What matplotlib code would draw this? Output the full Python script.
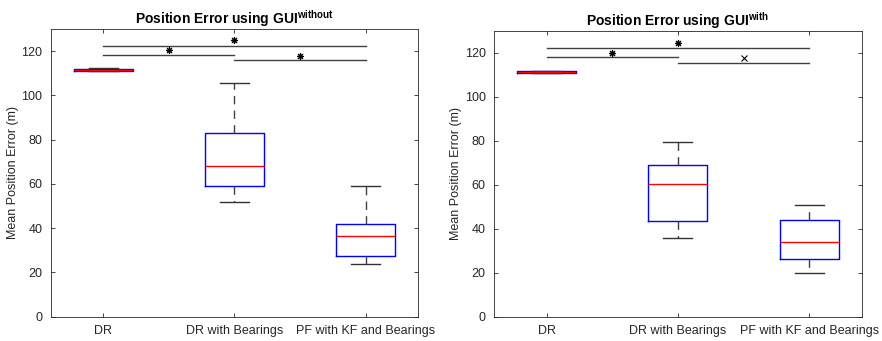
import matplotlib
matplotlib.use('Agg')
import matplotlib.pyplot as plt

plt.rcParams['font.family'] = ['Liberation Sans', 'DejaVu Sans']
plt.rcParams['mathtext.fontset'] = 'custom'
plt.rcParams['mathtext.bf'] = 'Liberation Sans:bold'
plt.rcParams['mathtext.rm'] = 'Liberation Sans'

categories = ['DR', 'DR with Bearings', 'PF with KF and Bearings']
titles = ['Position Error using GUI$^{\\mathbf{without}}$',
          'Position Error using GUI$^{\\mathbf{with}}$']

# box stats per panel: (whislo, q1, med, q3, whishi)
without_stats = [
    (111.0, 111.2, 111.5, 111.9, 112.2),
    (52.0, 59.2, 68.0, 83.0, 105.5),
    (24.0, 27.6, 36.3, 41.8, 59.2),
]
with_stats = [
    (110.8, 111.0, 111.3, 111.7, 112.0),
    (36.0, 43.6, 60.3, 69.0, 79.4),
    (19.9, 26.2, 33.9, 44.1, 51.0),
]

# significance brackets: (from, to, line height, marker, marker height)
without_sig = [(1, 3, 122.3, '*', 124.8), (1, 2, 118.3, '*', 120.6), (2, 3, 115.8, '*', 118.0)]
with_sig = [(1, 3, 122.3, '*', 124.4), (1, 2, 118.0, '*', 120.1), (2, 3, 115.6, 'x', 117.6)]

fig = plt.figure(figsize=(8.82, 3.41), dpi=100)
axes = [fig.add_axes([0.0575, 0.0713, 0.4164, 0.8437]),
        fig.add_axes([0.5601, 0.0713, 0.4169, 0.8378])]

txt_col = '#262626'

for ax, stats, sig, title in zip(axes, [without_stats, with_stats], [without_sig, with_sig], titles):
    bxp_stats = []
    for name, (lo, q1, med, q3, hi) in zip(categories, stats):
        bxp_stats.append({'label': name, 'whislo': lo, 'q1': q1, 'med': med,
                          'q3': q3, 'whishi': hi, 'fliers': []})
    ax.bxp(bxp_stats, positions=[1, 2, 3], widths=0.45, capwidths=0.22,
           showfliers=False,
           boxprops=dict(color='blue', linewidth=1.0),
           medianprops=dict(color='red', linewidth=1.0),
           whiskerprops=dict(color='0.25', linewidth=1.0, linestyle=(0, (6, 4.5))),
           capprops=dict(color='0.2', linewidth=1.0))

    for a, b, y, m, my in sig:
        ax.plot([a, b], [y, y], color='0.25', linewidth=1.0)
        if m == '*':
            ax.plot((a + b) / 2, my, marker=(8, 2, 0), color='black',
                    markersize=5, markeredgewidth=0.8)
        else:
            ax.plot((a + b) / 2, my, marker='x', color='black',
                    markersize=4, markeredgewidth=0.8)

    ax.set_xlim(0.6, 3.4)
    ax.set_ylim(0, 130)
    ax.set_yticks(range(0, 121, 20))
    ax.set_xticks([1, 2, 3])
    ax.set_xticklabels(categories)
    ax.tick_params(direction='in', top=True, right=True, labelsize=9,
                   colors=txt_col, length=3, width=0.6, pad=6)
    for sp in ax.spines.values():
        sp.set_color(txt_col)
        sp.set_linewidth(0.6)
    ax.set_title(title, fontsize=10, fontweight='bold', color='black', pad=4)
    ax.set_ylabel('Mean Position Error (m)', fontsize=9, color=txt_col, labelpad=2)

fig.savefig('out.png', dpi=100)
